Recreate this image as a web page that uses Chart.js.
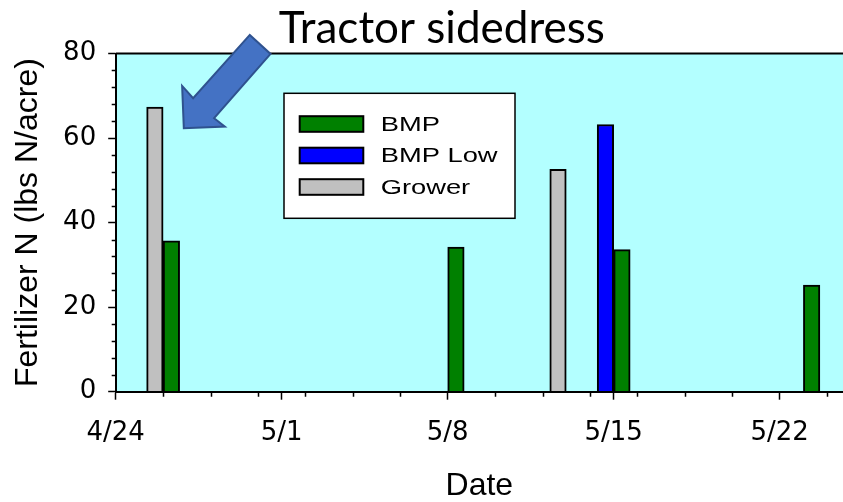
<!DOCTYPE html>
<html>
<head>
<meta charset="utf-8">
<script src="https://cdn.jsdelivr.net/npm/chart.js@4/dist/chart.umd.min.js"></script>
<style>
  html, body { margin: 0; padding: 0; background: #ffffff; }
  canvas { display: block; }
</style>
</head>
<body>
<canvas id="chart" width="843" height="502"></canvas>
<script>
// Sidedress fertilizer N applications by date (lbs N/acre)
const startDate = '4/24';
const xTickLabels = ['4/24', '5/1', '5/8', '5/15', '5/22'];
const seriesNames = ['BMP', 'BMP Low', 'Grower'];

const bmpDates = ['4/26', '5/8', '5/15', '5/23'];
const bmpValues = [35.7, 34.2, 33.6, 25.2];

const bmpLowDates = ['5/15'];
const bmpLowValues = [63.2];

const growerDates = ['4/26', '5/13'];
const growerValues = [67.3, 52.6];

const yTickValues = [0, 20, 40, 60, 80];

// days elapsed since the start of the date axis
function dayOffset(md) {
  const [m, d] = md.split('/').map(Number);
  const [m0, d0] = startDate.split('/').map(Number);
  return Math.round((Date.UTC(2000, m - 1, d) - Date.UTC(2000, m0 - 1, d0)) / 86400000);
}
function toPoints(dates, values) {
  return dates.map((d, i) => ({ x: dayOffset(d), y: values[i] }));
}

const AXIS_DAYS = 30.67;
const TICK_FONT = { family: 'DejaVu Sans', size: 26 };
const TITLE_FONT = { family: 'Liberation Sans', size: 32, lineHeight: 1 };

// cyan plot background
const plotBackground = {
  id: 'plotBackground',
  beforeDraw(chart) {
    const { ctx, chartArea: a } = chart;
    ctx.save();
    ctx.fillStyle = '#B3FFFF';
    ctx.fillRect(a.left, a.top, a.right - a.left, a.bottom - a.top);
    ctx.restore();
  }
};

// top frame line plus minor tick marks on both axes
const frameAndMinorTicks = {
  id: 'frameAndMinorTicks',
  afterDraw(chart) {
    const { ctx, chartArea: a } = chart;
    const xs = chart.scales.x, ys = chart.scales.y;
    ctx.save();
    ctx.strokeStyle = '#000000';
    ctx.lineWidth = 2;
    ctx.beginPath();
    ctx.moveTo(a.left, a.top);
    ctx.lineTo(a.right, a.top);
    ctx.stroke();

    ctx.lineWidth = 1.5;
    ctx.beginPath();
    for (let v = 4; v < 80; v += 4) {
      if (v % 20 === 0) continue;
      const py = Math.round(ys.getPixelForValue(v)) + 0.5;
      ctx.moveTo(a.left - 4, py);
      ctx.lineTo(a.left, py);
    }
    for (let d = 2; d <= AXIS_DAYS; d += 2) {
      if (d % 7 === 0) continue;
      const px = Math.round(xs.getPixelForValue(d)) + 0.5;
      ctx.moveTo(px, a.bottom);
      ctx.lineTo(px, a.bottom + 5);
    }
    ctx.stroke();
    ctx.restore();
  }
};

// boxed legend inside the plot area
const boxedLegend = {
  id: 'boxedLegend',
  afterDraw(chart) {
    const { ctx, chartArea: a } = chart;
    const left = a.left + 168.3, top = a.top + 39.8, w = 231, h = 125;
    ctx.save();
    ctx.fillStyle = '#ffffff';
    ctx.fillRect(left, top, w, h);
    ctx.strokeStyle = '#000000';
    ctx.lineWidth = 1.5;
    ctx.strokeRect(left, top, w, h);
    chart.data.datasets.forEach((ds, i) => {
      const cy = top + 30.7 + i * 31.5;
      ctx.fillStyle = ds.backgroundColor;
      ctx.fillRect(left + 15.7, cy - 7.8, 63.6, 15.6);
      ctx.lineWidth = 2;
      ctx.strokeStyle = '#000000';
      ctx.strokeRect(left + 15.7, cy - 7.8, 63.6, 15.6);
      ctx.save();
      ctx.translate(left + 96.7, cy);
      ctx.scale(1.3, 1);
      ctx.fillStyle = '#000000';
      ctx.font = '21px "Liberation Sans"';
      ctx.textBaseline = 'middle';
      ctx.textAlign = 'left';
      ctx.fillText(ds.label, 0, 1);
      ctx.restore();
    });
    ctx.restore();
  }
};

// "Tractor sidedress" callout with a block arrow pointing at the first grower bar
const sidedressCallout = {
  id: 'sidedressCallout',
  afterDraw(chart) {
    const { ctx, chartArea: a } = chart;
    const bar = chart.getDatasetMeta(2).data[0];
    const tipX = bar.x + bar.width / 2 + 20.7;
    const tipY = bar.y + 21;
    const shape = [[66, -93.3], [86.7, -74.3], [30.3, -10], [41, -1.6], [0, 0], [-1.7, -42.3], [9.3, -30]];
    ctx.save();
    ctx.beginPath();
    shape.forEach(([dx, dy], i) => {
      if (i === 0) ctx.moveTo(tipX + dx, tipY + dy); else ctx.lineTo(tipX + dx, tipY + dy);
    });
    ctx.closePath();
    ctx.fillStyle = '#4472C4';
    ctx.fill();
    ctx.lineWidth = 2;
    ctx.lineJoin = 'miter';
    ctx.strokeStyle = '#2F528F';
    ctx.stroke();

    ctx.fillStyle = '#000000';
    ctx.font = '44px Lato';
    ctx.textBaseline = 'alphabetic';
    ctx.textAlign = 'left';
    ctx.fillText('Tractor sidedress', a.left + 163, a.top - 10.2);
    ctx.restore();
  }
};

const barStyle = { borderColor: '#000000', borderWidth: 2, barThickness: 16.5, grouped: true };

new Chart(document.getElementById('chart'), {
  type: 'bar',
  data: {
    datasets: [
      Object.assign({ label: seriesNames[0], data: toPoints(bmpDates, bmpValues), backgroundColor: '#008000', stack: 'after', order: 1 }, barStyle),
      Object.assign({ label: seriesNames[1], data: toPoints(bmpLowDates, bmpLowValues), backgroundColor: '#0000FF', stack: 'before', order: 0 }, barStyle),
      Object.assign({ label: seriesNames[2], data: toPoints(growerDates, growerValues), backgroundColor: '#C0C0C0', stack: 'before', order: 0 }, barStyle)
    ]
  },
  options: {
    responsive: false,
    animation: false,
    devicePixelRatio: 1,
    layout: { padding: { top: 53.5, left: 0, right: 0, bottom: 0 } },
    plugins: {
      legend: { display: false },
      tooltip: { enabled: false }
    },
    scales: {
      x: {
        type: 'linear',
        min: 0,
        max: AXIS_DAYS,
        offset: false,
        afterFit(scale) { scale.height = 110.3; },
        ticks: {
          stepSize: 7,
          includeBounds: false,
          autoSkip: false,
          maxRotation: 0,
          color: '#000000',
          font: TICK_FONT,
          padding: 18,
          callback: (v) => xTickLabels[Math.round(v / 7)] ?? ''
        },
        grid: { offset: false, drawOnChartArea: false, drawTicks: true, tickLength: 8, tickColor: '#000000', tickWidth: 1.5 },
        border: { display: true, color: '#000000', width: 2, z: 1 },
        title: { display: true, text: 'Date', color: '#000000', font: TITLE_FONT, padding: { top: 0, bottom: 0 } }
      },
      y: {
        min: 0,
        max: 80,
        stacked: false,
        afterFit(scale) { scale.width = 115.7; },
        afterBuildTicks(scale) { scale.ticks = yTickValues.map(v => ({ value: v })); },
        ticks: { color: '#000000', font: TICK_FONT, padding: 12 },
        grid: { drawOnChartArea: false, drawTicks: true, tickLength: 7.5, tickColor: '#000000', tickWidth: 1.5 },
        border: { display: true, color: '#000000', width: 2, z: 1 },
        title: { display: true, text: 'Fertilizer N (lbs N/acre)', color: '#000000', font: TITLE_FONT, padding: { top: 12, bottom: 0 } }
      }
    }
  },
  plugins: [plotBackground, frameAndMinorTicks, boxedLegend, sidedressCallout]
});
</script>
</body>
</html>
